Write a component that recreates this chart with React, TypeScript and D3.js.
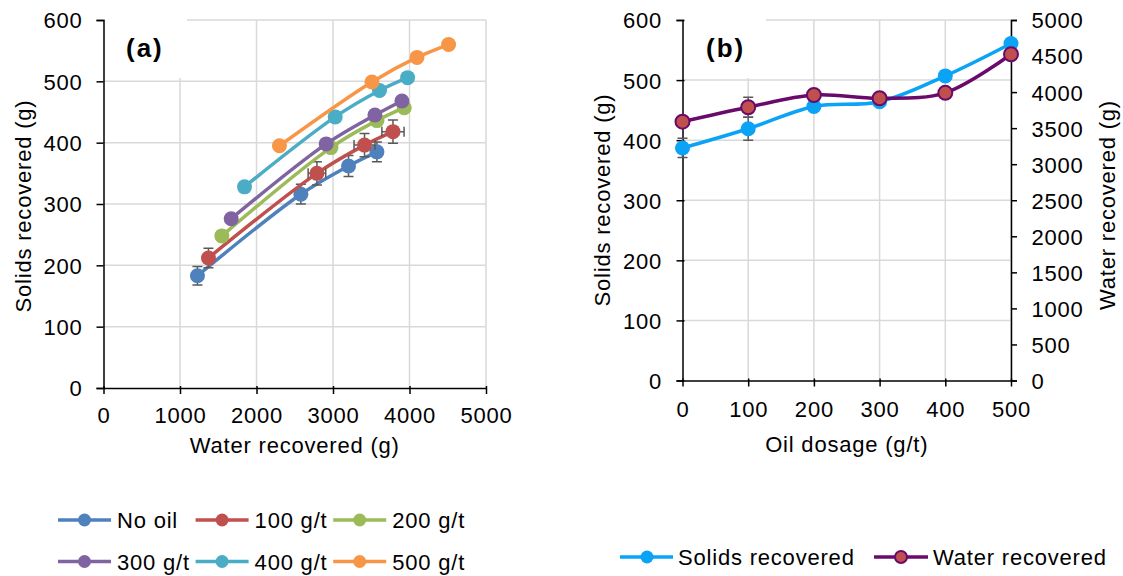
import * as React from "react";
import * as d3 from "d3";

// panel (a): water vs solids recovered for each oil dosage
const seriesNames = ["No oil", "100 g/t", "200 g/t", "300 g/t", "400 g/t", "500 g/t"];
const seriesColors = ["#4F81BD", "#C0504D", "#9BBB59", "#8064A2", "#4BACC6", "#F79646"];

const waterNoOil = [1228, 2580, 3203, 3574];
const solidsNoOil = [183, 316, 362, 385];
const water100 = [1372, 2790, 3412, 3784];
const solids100 = [212, 350, 396, 418];
const water200 = [1547, 2973, 3574, 3931];
const solids200 = [248, 392, 436, 457];
const water300 = [1669, 2911, 3548, 3901];
const solids300 = [276, 398, 445, 468];
const water400 = [1843, 3029, 3608, 3975];
const solids400 = [328, 442, 485, 506];
const water500 = [2300, 3509, 4098, 4511];
const solids500 = [395, 499, 539, 560];

// error bars (a)
const solidsErrNoOil = [15, 16, 17, 16];
const solidsErr100 = [16, 19, 19, 19];
const waterErr100 = [0, 115, 137, 145];

// panel (b): recovery vs oil dosage
const dosages = [0, 100, 200, 300, 400, 500];
const solidsByDosage = [387, 419, 456, 464, 507, 561];
const waterByDosage = [3590, 3790, 3960, 3915, 3990, 4525];
const solidsErrByDosage = [16, 19, 0, 0, 0, 0];
const waterErrByDosage = [0, 139, 0, 0, 0, 0];

const xTicksA = [0, 1000, 2000, 3000, 4000, 5000];
const yTicksA = [0, 100, 200, 300, 400, 500, 600];
const xTicksB = [0, 100, 200, 300, 400, 500];
const yTicksBRight = d3.range(0, 5001, 500);

const FONT = "'Liberation Sans', Arial, sans-serif";
const SPACING = "0.8px";
const GRID = "#D9D9D9";
const ERR = "#595959";
const SOLIDS_B = "#0BA3F5";
const WATER_B = "#6A0A6A";

export default function App() {
  const ref = React.useRef<SVGSVGElement>(null);

  React.useEffect(() => {
    const svg = d3.select(ref.current);
    svg.selectAll("*").remove();

    const seriesA = [
      {x: waterNoOil, y: solidsNoOil, ey: solidsErrNoOil, ex: null},
      {x: water100, y: solids100, ey: solidsErr100, ex: waterErr100},
      {x: water200, y: solids200, ey: null, ex: null},
      {x: water300, y: solids300, ey: null, ex: null},
      {x: water400, y: solids400, ey: null, ex: null},
      {x: water500, y: solids500, ey: null, ex: null},
    ];

    const xA = d3.scaleLinear().domain([0, 5000]).range([103.5, 486]);
    const yA = d3.scaleLinear().domain([0, 600]).range([388, 20]);
    const xB = d3.scaleLinear().domain([0, 500]).range([682.5, 1011]);
    const yBL = d3.scaleLinear().domain([0, 600]).range([380.5, 20]);
    const yBR = d3.scaleLinear().domain([0, 5000]).range([380.5, 20]);

    const text = (g, size = 22) => g
      .attr("font-family", FONT)
      .attr("font-size", size)
      .attr("fill", "#000")
      .style("letter-spacing", SPACING);

    const grid = (g, xs, ys, x, y) => {
      g.selectAll(".gx").data(xs.filter(d => d !== xs[0])).enter().append("line")
        .attr("x1", d => x(d)).attr("x2", d => x(d))
        .attr("y1", y.range()[0]).attr("y2", y.range()[1])
        .attr("stroke", GRID).attr("stroke-width", 1.5);
      g.selectAll(".gy").data(ys.filter(d => d !== ys[0])).enter().append("line")
        .attr("x1", x.range()[0]).attr("x2", x.range()[1])
        .attr("y1", d => y(d)).attr("y2", d => y(d))
        .attr("stroke", GRID).attr("stroke-width", 1.5);
    };

    const styleAxis = (g) => {
      g.select(".domain").attr("stroke", "#000").attr("stroke-width", 1.5);
      g.selectAll(".tick line").attr("stroke", "#000").attr("stroke-width", 1.5);
      g.attr("font-family", FONT).attr("font-size", 22);
      g.selectAll(".tick text").attr("fill", "#000").style("letter-spacing", SPACING);
    };

    const errorBars = (g, pts, color) => {
      const cap = 5;
      pts.forEach(p => {
        if (p.ey) {
          const y0 = p.ys(p.vy - p.ey), y1 = p.ys(p.vy + p.ey), x = p.xs(p.vx);
          g.append("path")
            .attr("d", `M${x},${y0}V${y1}M${x - cap},${y0}H${x + cap}M${x - cap},${y1}H${x + cap}`)
            .attr("stroke", color).attr("stroke-width", 1.5).attr("fill", "none");
        }
        if (p.ex) {
          const x0 = p.xs(p.vx - p.ex), x1 = p.xs(p.vx + p.ex), y = p.ys(p.vy);
          g.append("path")
            .attr("d", `M${x0},${y}H${x1}M${x0},${y - cap}V${y + cap}M${x1},${y - cap}V${y + cap}`)
            .attr("stroke", color).attr("stroke-width", 1.5).attr("fill", "none");
        }
      });
    };

    // ---------- panel (a) ----------
    const a = svg.append("g");
    grid(a, xTicksA, yTicksA, xA, yA);
    a.append("rect").attr("x", 105).attr("y", 14).attr("width", 82).attr("height", 64).attr("fill", "#fff");
    a.append("text").call(text, 26)
      .attr("x", 126).attr("y", 57).attr("font-weight", "bold").style("letter-spacing", "2px")
      .text("(a)");

    a.append("g").attr("transform", `translate(0,${yA(0)})`)
      .call(d3.axisBottom(xA).tickValues(xTicksA).tickSizeOuter(0).tickFormat(d3.format("d")))
      .call(styleAxis)
      .call(g => g.selectAll(".tick line").attr("y1", -2).attr("y2", 6))
      .call(g => g.selectAll(".tick text").attr("y", 35).attr("dy", null));
    a.append("g").attr("transform", `translate(${xA(0)},0)`)
      .call(d3.axisLeft(yA).tickValues(yTicksA).tickSizeOuter(0).tickSize(7))
      .call(styleAxis)
      .call(g => g.selectAll(".tick text").attr("x", -21).attr("dy", "0.36em"));

    a.append("text").call(text)
      .attr("x", (xA.range()[0] + xA.range()[1]) / 2).attr("y", 453)
      .attr("text-anchor", "middle").text("Water recovered (g)");
    a.append("text").call(text)
      .attr("transform", `translate(31,206) rotate(-90)`)
      .attr("text-anchor", "middle").text("Solids recovered (g)");

    const lineA = d3.line<[number, number]>()
      .x(d => xA(d[0])).y(d => yA(d[1]))
      .curve(d3.curveCatmullRom);

    seriesA.forEach((s, i) => {
      const pts = s.x.map((v, j) => [v, s.y[j]] as [number, number]);
      const g = a.append("g");
      g.append("path").attr("d", lineA(pts))
        .attr("fill", "none").attr("stroke", seriesColors[i]).attr("stroke-width", 3.5);
      errorBars(g, pts.map((p, j) => ({
        vx: p[0], vy: p[1], xs: xA, ys: yA,
        ey: s.ey ? s.ey[j] : 0, ex: s.ex ? s.ex[j] : 0,
      })), ERR);
      g.selectAll("circle").data(pts).enter().append("circle")
        .attr("cx", d => xA(d[0])).attr("cy", d => yA(d[1])).attr("r", 7.5)
        .attr("fill", seriesColors[i]);
    });

    // legend (a)
    seriesNames.forEach((name, i) => {
      const col = i % 3, row = Math.floor(i / 3);
      const lx = 58 + col * 137.6, ly = row === 0 ? 520 : 561.5;
      const g = svg.append("g");
      g.append("line").attr("x1", lx).attr("x2", lx + 53).attr("y1", ly).attr("y2", ly)
        .attr("stroke", seriesColors[i]).attr("stroke-width", 3.5);
      g.append("circle").attr("cx", lx + 26.5).attr("cy", ly).attr("r", 6.5).attr("fill", seriesColors[i]);
      g.append("text").call(text).attr("x", lx + 59).attr("y", ly + 8).text(name);
    });

    // ---------- panel (b) ----------
    const b = svg.append("g");
    grid(b, xTicksB, yTicksA, xB, yBL);
    b.append("rect").attr("x", 684).attr("y", 14).attr("width", 82).attr("height", 64).attr("fill", "#fff");
    b.append("text").call(text, 26)
      .attr("x", 706).attr("y", 57).attr("font-weight", "bold").style("letter-spacing", "2px")
      .text("(b)");

    b.append("g").attr("transform", `translate(0,${yBL(0)})`)
      .call(d3.axisBottom(xB).tickValues(xTicksB).tickSizeOuter(0))
      .call(styleAxis)
      .call(g => g.selectAll(".tick line").attr("y1", -2).attr("y2", 6))
      .call(g => g.selectAll(".tick text").attr("y", 36).attr("dy", null));
    b.append("g").attr("transform", `translate(${xB(0)},0)`)
      .call(d3.axisLeft(yBL).tickValues(yTicksA).tickSizeOuter(0).tickSize(6))
      .call(styleAxis)
      .call(g => g.selectAll(".tick line").attr("x2", -6).attr("x1", 2))
      .call(g => g.selectAll(".tick text").attr("x", -20.5).attr("dy", "0.36em"));
    b.append("g").attr("transform", `translate(${xB(500)},0)`)
      .call(d3.axisRight(yBR).tickValues(yTicksBRight).tickSizeOuter(0).tickSize(6).tickFormat(d3.format("d")))
      .call(styleAxis)
      .call(g => g.selectAll(".tick text").attr("x", 20.5).attr("dy", "0.36em"));

    b.append("text").call(text)
      .attr("x", (xB.range()[0] + xB.range()[1]) / 2).attr("y", 452)
      .attr("text-anchor", "middle").text("Oil dosage (g/t)");
    b.append("text").call(text)
      .attr("transform", `translate(610,200) rotate(-90)`)
      .attr("text-anchor", "middle").text("Solids recovered (g)");
    b.append("text").call(text)
      .attr("transform", `translate(1115,205) rotate(-90)`)
      .attr("text-anchor", "middle").text("Water recovered (g)");

    const solidsPts = dosages.map((d, i) => [d, solidsByDosage[i]] as [number, number]);
    const waterPts = dosages.map((d, i) => [d, waterByDosage[i]] as [number, number]);

    const gs = b.append("g");
    gs.append("path")
      .attr("d", d3.line<[number, number]>().x(d => xB(d[0])).y(d => yBL(d[1])).curve(d3.curveCatmullRom)(solidsPts))
      .attr("fill", "none").attr("stroke", SOLIDS_B).attr("stroke-width", 3.5);
    errorBars(gs, solidsPts.map((p, j) => ({vx: p[0], vy: p[1], xs: xB, ys: yBL, ey: solidsErrByDosage[j], ex: 0})), ERR);
    gs.selectAll("circle").data(solidsPts).enter().append("circle")
      .attr("cx", d => xB(d[0])).attr("cy", d => yBL(d[1])).attr("r", 7.5).attr("fill", SOLIDS_B);

    const gw = b.append("g");
    gw.append("path")
      .attr("d", d3.line<[number, number]>().x(d => xB(d[0])).y(d => yBR(d[1])).curve(d3.curveCatmullRom)(waterPts))
      .attr("fill", "none").attr("stroke", WATER_B).attr("stroke-width", 3.5);
    errorBars(gw, waterPts.map((p, j) => ({vx: p[0], vy: p[1], xs: xB, ys: yBR, ey: waterErrByDosage[j], ex: 0})), ERR);
    gw.selectAll("circle").data(waterPts).enter().append("circle")
      .attr("cx", d => xB(d[0])).attr("cy", d => yBR(d[1])).attr("r", 7)
      .attr("fill", "#C0504D").attr("stroke", WATER_B).attr("stroke-width", 2);

    // legend (b)
    const lb = svg.append("g");
    lb.append("line").attr("x1", 620).attr("x2", 673).attr("y1", 557).attr("y2", 557)
      .attr("stroke", SOLIDS_B).attr("stroke-width", 3.5);
    lb.append("circle").attr("cx", 647).attr("cy", 557).attr("r", 6.5).attr("fill", SOLIDS_B);
    lb.append("text").call(text).attr("x", 678).attr("y", 565).text("Solids recovered");
    lb.append("line").attr("x1", 874).attr("x2", 928).attr("y1", 557).attr("y2", 557)
      .attr("stroke", WATER_B).attr("stroke-width", 3.5);
    lb.append("circle").attr("cx", 901).attr("cy", 557).attr("r", 6)
      .attr("fill", "#C0504D").attr("stroke", WATER_B).attr("stroke-width", 2);
    lb.append("text").call(text).attr("x", 933).attr("y", 565).text("Water recovered");
  }, []);

  return (
    <svg ref={ref} width={1123} height={576}
         style={{position: "absolute", left: 0, top: 0, background: "#fff"}}/>
  );
}
